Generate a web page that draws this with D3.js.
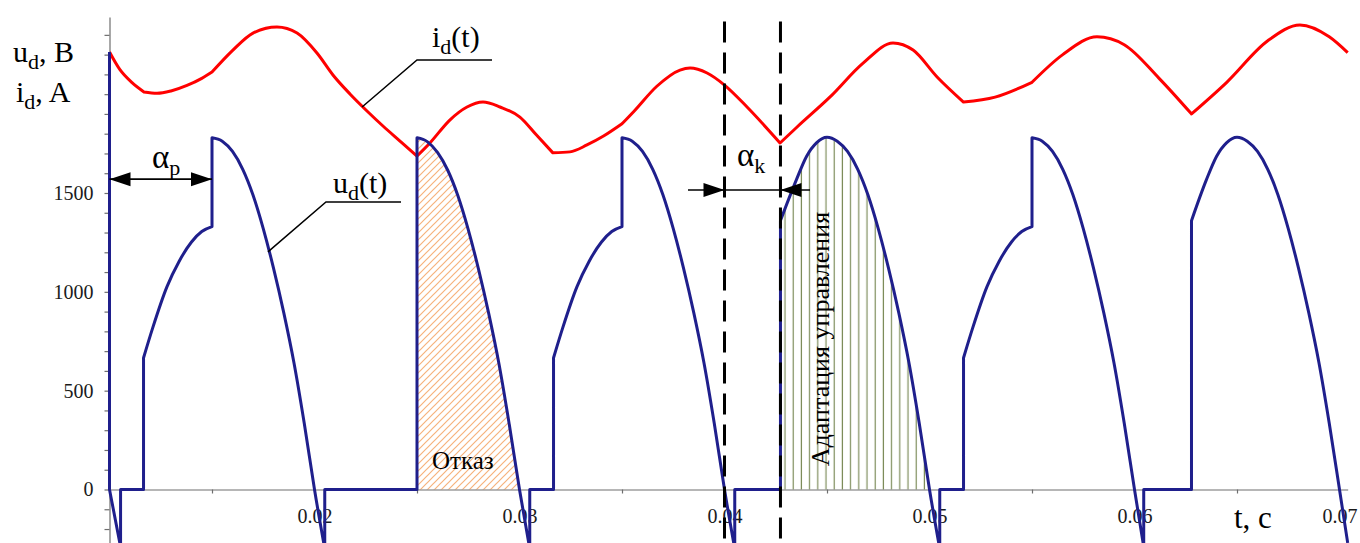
<!DOCTYPE html>
<html lang="ru">
<head>
<meta charset="UTF-8">
<title>u_d(t), i_d(t)</title>
<script src="https://d3js.org/d3.v7.min.js"></script>
<style>
  body { margin: 0; background: #fff; }
  svg { display: block; }
  svg text { font-family: "Liberation Serif", "Times New Roman", serif; }
</style>
</head>
<body>
<svg id="chart" width="1360" height="543"></svg>
<script>
// values (t in s, u_d in V, i_d drawn on the same scale)
const xTicks = [0.01, 0.015, 0.02, 0.025, 0.03, 0.035, 0.04, 0.045, 0.05, 0.055, 0.06, 0.065, 0.07];
const xLabels = [0.02, 0.03, 0.04, 0.05, 0.06, 0.07];
const yTicks = d3.range(-200, 2400, 100);
const yLabels = [0, 500, 1000, 1500];

const udPulse1 = [
  [0.01, 2213], [0.01, 0], [0.01054, -290],
  [0.01054, 0], [0.01166, 0],
  [0.01166, 666], [0.0121, 815], [0.0128, 1025], [0.0134, 1155], [0.014, 1252], [0.0145, 1305], [0.015, 1330],
  [0.015, 1780], [0.0155, 1762], [0.016, 1710], [0.0165, 1620], [0.017, 1490], [0.0175, 1320],
  [0.018, 1120], [0.0185, 895], [0.019, 640], [0.0195, 335], [0.02, 0], [0.0205, -300]
];
const udPulse2 = [
  [0.0205, 0], [0.025, 0],
  [0.025, 1780], [0.0255, 1760], [0.026, 1705], [0.0265, 1615], [0.027, 1485], [0.0275, 1315],
  [0.028, 1115], [0.0285, 890], [0.029, 635], [0.0295, 330], [0.03, 0], [0.0305, -300]
];
const udPulse3 = [
  [0.0305, 0], [0.03166, 0],
  [0.03166, 666], [0.0321, 815], [0.0328, 1025], [0.0334, 1155], [0.034, 1252], [0.0345, 1305], [0.035, 1330],
  [0.035, 1780], [0.0355, 1762], [0.036, 1710], [0.0365, 1620], [0.037, 1490], [0.0375, 1320],
  [0.038, 1120], [0.0385, 895], [0.039, 640], [0.0395, 335], [0.04, 0], [0.0405, -300]
];
const udPulse4 = [
  [0.0405, 0], [0.04273, 0],
  [0.04273, 1360], [0.0435, 1565], [0.044, 1685], [0.0445, 1755], [0.045, 1782], [0.0455, 1762],
  [0.046, 1710], [0.0465, 1620], [0.047, 1490], [0.0475, 1320], [0.048, 1120], [0.0485, 895],
  [0.049, 640], [0.0495, 335], [0.05, 0], [0.0505, -300]
];
const udPulse5 = [
  [0.0505, 0], [0.05166, 0],
  [0.05166, 666], [0.0521, 815], [0.0528, 1025], [0.0534, 1155], [0.054, 1252], [0.0545, 1305], [0.055, 1330],
  [0.055, 1780], [0.0555, 1762], [0.056, 1710], [0.0565, 1620], [0.057, 1490], [0.0575, 1320],
  [0.058, 1120], [0.0585, 895], [0.059, 640], [0.0595, 335], [0.06, 0], [0.06045, -290]
];
const udPulse6 = [
  [0.06045, 0], [0.06278, 0],
  [0.06278, 1360], [0.0635, 1565], [0.064, 1685], [0.0645, 1755], [0.065, 1782], [0.0655, 1762],
  [0.066, 1710], [0.0665, 1620], [0.067, 1490], [0.0675, 1320], [0.068, 1120], [0.0685, 895],
  [0.069, 640], [0.0695, 335], [0.07, 0], [0.0704, -270]
];

// i_d(t): smooth pieces between the switching corners
const idPieces = [
  [[0.01, 2213], [0.0105, 2125], [0.0111, 2058], [0.01168, 2011]],
  [[0.01168, 2011], [0.01232, 2004], [0.013, 2016], [0.01378, 2044], [0.0145, 2080], [0.015, 2112]],
  [[0.015, 2112], [0.01602, 2223], [0.017, 2309], [0.01817, 2340], [0.01915, 2309], [0.02012, 2208],
   [0.0209, 2097], [0.02173, 2001], [0.02256, 1915], [0.02334, 1839], [0.02417, 1763], [0.025, 1687]],
  [[0.025, 1687], [0.02563, 1753], [0.0266, 1869], [0.02744, 1935], [0.02822, 1960], [0.02905, 1935],
   [0.03002, 1884], [0.03083, 1793], [0.03163, 1703]],
  [[0.03163, 1703], [0.03246, 1708], [0.03329, 1743], [0.0341, 1788], [0.035, 1850]],
  [[0.035, 1850], [0.0356, 1915], [0.0367, 2040], [0.03783, 2122], [0.03832, 2132], [0.03915, 2107],
   [0.04, 2046], [0.0411, 1935], [0.04271, 1753]],
  [[0.04271, 1753], [0.04354, 1834], [0.04515, 1986], [0.04676, 2157], [0.04822, 2259], [0.0492, 2223],
   [0.05037, 2087], [0.05166, 1960]],
  [[0.05166, 1960], [0.0532, 1985], [0.055, 2060]],
  [[0.055, 2060], [0.0565, 2200], [0.05817, 2290], [0.0595, 2250], [0.0612, 2080], [0.06278, 1900]],
  [[0.06278, 1900], [0.0645, 2060], [0.0665, 2270], [0.06807, 2350], [0.0695, 2290], [0.0704, 2210]]
];

// annotation anchors (data units)
const alphaP = { t0: 0.01, t1: 0.015, v: 1570 };
const alphaK = { t0: 0.04, t1: 0.04273, v: 1515, from: 0.03822, to: 0.04417 };
const dashT = [0.04, 0.04273];

const svg = d3.select("#chart");
const W = 1360, H = 543;
svg.append("rect").attr("width", W).attr("height", H).attr("fill", "#fff");

const x = d3.scaleLinear().domain([0.01, 0.0704]).range([109.5, 1347.7]);
const k = 0.19767;
const y = d3.scaleLinear().domain([-275, 2390]).range([489.5 + 275 * k, 489.5 - 2390 * k]);

// hatch patterns
const defs = svg.append("defs");
const pOr = defs.append("pattern").attr("id", "hatchOrange").attr("patternUnits", "userSpaceOnUse")
  .attr("width", 7).attr("height", 7);
pOr.append("path").attr("d", "M-1,1 l2,-2 M0,7 l7,-7 M6,8 l2,-2")
  .attr("stroke", "#f6b27c").attr("stroke-width", 1.2);
const pGr = defs.append("pattern").attr("id", "hatchGreen").attr("patternUnits", "userSpaceOnUse")
  .attr("width", 8.2).attr("height", 10).attr("x", 781);
pGr.append("line").attr("x1", 4).attr("x2", 4).attr("y1", 0).attr("y2", 10)
  .attr("stroke", "#7d8c5a").attr("stroke-width", 1.2);

const udAll = [].concat(udPulse1, udPulse2, udPulse3, udPulse4, udPulse5, udPulse6);

// split into runs at vertical jumps, draw smooth runs, join with straight lines
function runsOf(points) {
  const runs = [];
  points.forEach((p, i) => {
    if (i === 0 || p[0] === points[i - 1][0]) runs.push([p]);
    else runs[runs.length - 1].push(p);
  });
  return runs;
}
const gen = d3.line().x(d => x(d[0])).y(d => y(d[1])).curve(d3.curveMonotoneX);
function joined(runs) {
  return runs.map((r, i) => {
    const d = r.length > 1 ? gen(r) : "M" + x(r[0][0]) + "," + y(r[0][1]);
    return i ? "L" + d.slice(1) : d;
  }).join("");
}

function arcPart(arr, t0, t1) {
  const pts = arr.filter(d => d[0] >= t0 && d[0] <= t1 && d[1] > 0);
  pts.push([t1, 0]);
  return pts;
}
const area = d3.area().x(d => x(d[0])).y0(y(0)).y1(d => y(d[1])).curve(d3.curveMonotoneX);

svg.append("path").attr("d", area(arcPart(udPulse2, 0.025, 0.03))).attr("fill", "url(#hatchOrange)");
svg.append("path").attr("d", area(arcPart(udPulse4, 0.04273, 0.05))).attr("fill", "url(#hatchGreen)");

// axes
const gx = svg.append("g").attr("transform", `translate(0,${y(0)})`)
  .call(d3.axisBottom(x).tickValues(xTicks).tickSize(4).tickSizeOuter(0).tickPadding(15)
    .tickFormat(d => xLabels.some(v => Math.abs(v - d) < 1e-9) ? d3.format(".2f")(d) : ""));
const gy = svg.append("g").attr("transform", `translate(${x(0.01)},0)`)
  .call(d3.axisLeft(y).tickValues(yTicks).tickSize(5).tickSizeOuter(0).tickPadding(11)
    .tickFormat(d => yLabels.includes(d) ? d : ""));
[gx, gy].forEach(g => {
  g.attr("font-family", null).attr("font-size", null);
  g.selectAll("path, line").attr("stroke", "#6e6e6e").attr("stroke-width", 1.2);
  g.selectAll("text").attr("font-size", 20).attr("fill", "#1a1a1a");
});

// i_d(t) and u_d(t)
svg.append("path").attr("d", joined(idPieces)).attr("fill", "none")
  .attr("stroke", "#ff0000").attr("stroke-width", 3).attr("stroke-linejoin", "round");
svg.append("path").attr("d", joined(runsOf(udAll))).attr("fill", "none")
  .attr("stroke", "#1f1f8c").attr("stroke-width", 3).attr("stroke-linejoin", "round");

// dashed markers
svg.selectAll("line.dash").data(dashT).join("line").attr("class", "dash")
  .attr("x1", d => x(d)).attr("x2", d => x(d)).attr("y1", y(2368)).attr("y2", H)
  .attr("stroke", "#000").attr("stroke-width", 3).attr("stroke-dasharray", "21,10");

// arrows
function head(tipX, tipY, dir) {
  const L = 21, h = 7;
  svg.append("path").attr("d", `M${tipX},${tipY}L${tipX - dir * L},${tipY - h}L${tipX - dir * L},${tipY + h}Z`)
    .attr("fill", "#000");
}
const ya = y(alphaP.v);
svg.append("line").attr("x1", x(alphaP.t0)).attr("x2", x(alphaP.t1)).attr("y1", ya).attr("y2", ya)
  .attr("stroke", "#000").attr("stroke-width", 1.6);
head(x(alphaP.t0), ya, -1);
head(x(alphaP.t1), ya, 1);

const yk = y(alphaK.v);
svg.append("line").attr("x1", x(alphaK.from)).attr("x2", x(alphaK.to)).attr("y1", yk).attr("y2", yk)
  .attr("stroke", "#000").attr("stroke-width", 1.6);
head(x(alphaK.t0), yk, 1);
head(x(alphaK.t1), yk, -1);

// leader lines for curve names
function leader(tFrom, vFrom, tKnee, tEnd, vLine) {
  svg.append("path")
    .attr("d", `M${x(tFrom)},${y(vFrom)}L${x(tKnee)},${y(vLine)}L${x(tEnd)},${y(vLine)}`)
    .attr("fill", "none").attr("stroke", "#000").attr("stroke-width", 1.5);
}
leader(0.02232, 1935, 0.025, 0.02866, 2173);
leader(0.01773, 1202, 0.02056, 0.02422, 1455);

// texts
function subText(xp, yp, main, sub, rest, size, subSize) {
  const t = svg.append("text").attr("x", xp).attr("y", yp).attr("font-size", size).attr("fill", "#000");
  t.append("tspan").text(main);
  t.append("tspan").attr("font-size", subSize).attr("dy", size * 0.22).text(sub);
  if (rest) t.append("tspan").attr("dy", -size * 0.22).text(rest);
  return t;
}
subText(13, 62, "u", "d", ", B", 30, 22);
subText(16, 102, "i", "d", ", A", 30, 22);
subText(432, 47, "i", "d", "(t)", 30, 22);
subText(333, 193, "u", "d", "(t)", 30, 22);
subText(152, 168, "α", "p", null, 33, 22);
subText(737, 166, "α", "k", null, 33, 22);

svg.append("text").attr("x", 1234).attr("y", 528).attr("font-size", 31).text("t, c");
svg.append("text").attr("x", 432).attr("y", 469).attr("font-size", 25).text("Отказ");
svg.append("text").attr("transform", "translate(829,339) rotate(-90)")
  .attr("text-anchor", "middle").attr("font-size", 26).text("Адаптация управления");
</script>
</body>
</html>
